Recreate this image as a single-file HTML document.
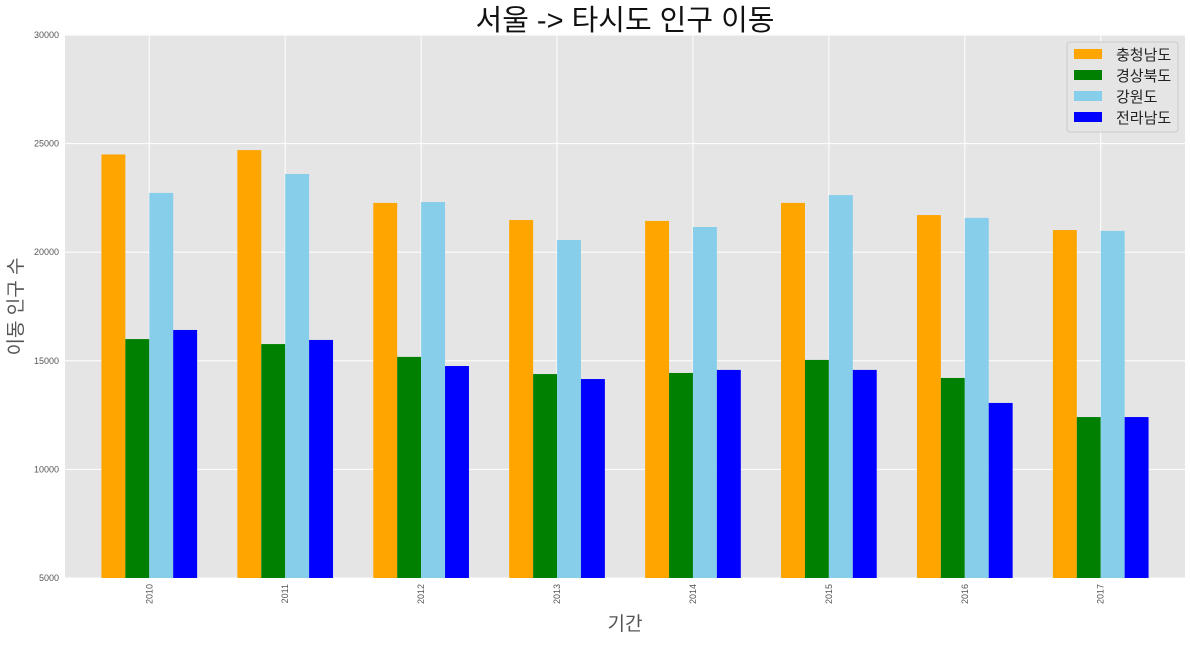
<!DOCTYPE html>
<html><head><meta charset="utf-8"><style>
body{margin:0;background:#fff;width:1190px;height:640px;overflow:hidden;font-family:"Liberation Sans","Noto Sans CJK KR",sans-serif}
</style></head><body>
<svg id="chart" width="1190" height="640" xmlns="http://www.w3.org/2000/svg"></svg>
<script>
const categories=["2010","2011","2012","2013","2014","2015","2016","2017"];
const seriesNames=["충청남도","경상북도","강원도","전라남도"];
const chungnam=[24500,24700,22270,21480,21440,22270,21710,21020];
const gyeongbuk=[16000,15770,15180,14390,14440,15040,14210,12410];
const gangwon=[22730,23600,22310,20560,21160,22630,21580,20980];
const jeonnam=[16420,15960,14760,14160,14580,14580,13060,12410];
const yTicks=[5000,10000,15000,20000,25000,30000];
const colors=["orange","green","skyblue","blue"];
const NS="http://www.w3.org/2000/svg";
const svg=document.getElementById('chart');
const L=65,R=1185,T=35,B=578,yMin=5000,yMax=30000;
const step=(R-L)/(categories.length-1+1.24);
const xc=i=>L+step*0.62+i*step;
const y=v=>B-(v-yMin)/(yMax-yMin)*(B-T);
const bw=step*0.176;
function mk(t,a,p){const e=document.createElementNS(NS,t);for(const k in a)e.setAttribute(k,a[k]);(p||svg).appendChild(e);return e;}
const bg=mk('rect',{x:L,y:T,width:R-L,height:B-T,fill:'#e5e5e5'});


yTicks.forEach(v=>{
 const g=mk('line',{x1:L,x2:R,y1:y(v),y2:y(v),stroke:'#fff','stroke-width':1});
 
 
 const t=mk('text',{x:L-6,y:y(v)+3,'text-anchor':'end','font-size':9,fill:'#555'});t.textContent=v;
 
 
});
categories.forEach((c,i)=>{
 const g=mk('line',{x1:xc(i),x2:xc(i),y1:T,y2:B,stroke:'#fff','stroke-width':1});
 
 
 const t=mk('text',{x:0,y:0,'text-anchor':'end','font-size':9,fill:'#555',transform:`translate(${xc(i)+3},${B+6}) rotate(-90)`});t.textContent=c;
 
 
});
const all=[chungnam,gyeongbuk,gangwon,jeonnam];
all.forEach((s,k)=>{
 s.forEach((v,i)=>{
  const x=xc(i)+(k-2)*bw;
  const r=mk('rect',{x:x,y:y(v),width:bw,height:B-y(v),fill:colors[k]});
  
  
 });
});
const title=mk('text',{x:(L+R)/2,y:30,'text-anchor':'middle','font-size':29,fill:'#111'});title.textContent='서울 -> 타시도 인구 이동';


const xt=mk('text',{x:(L+R)/2,y:630,'text-anchor':'middle','font-size':19,fill:'#555'});xt.textContent='기간';


const yt=mk('text',{x:0,y:0,'text-anchor':'middle','font-size':19,fill:'#555',transform:`translate(22,${(T+B)/2}) rotate(-90)`});yt.textContent='이동 인구 수';


const lg=mk('g',{});


mk('rect',{x:1067,y:42,width:111,height:90,fill:'#e5e5e5',stroke:'#ccc',rx:3},lg);
seriesNames.forEach((n,k)=>{
 const g=mk('g',{},lg);
 
 
 mk('rect',{x:1074,y:49+k*21,width:28,height:10,fill:colors[k]},g);
 const t=mk('text',{x:1116,y:60+k*21,'font-size':15,fill:'#222'},g);t.textContent=n;
});
</script>
</body></html>
